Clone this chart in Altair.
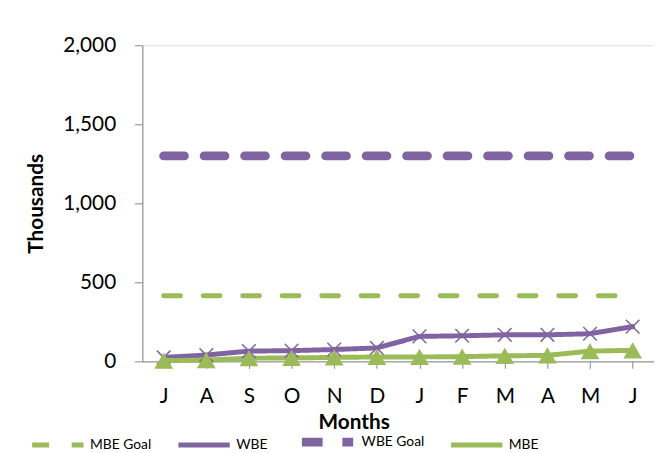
import altair as alt
import pandas as pd

months = ["Jul", "Aug", "Sep", "Oct", "Nov", "Dec", "Jan", "Feb", "Mar", "Apr", "May", "Jun"]
wbe = [25, 40, 65, 68, 75, 85, 158, 162, 168, 168, 175, 220]
mbe = [5, 8, 20, 22, 25, 28, 28, 30, 35, 38, 65, 70]
mbe_goal = [415] * 12
wbe_goal = [1300] * 12

series_order = ["MBE Goal", "WBE", "WBE Goal", "MBE"]
series_colors = ["#9BBB59", "#8064A2", "#8064A2", "#9BBB59"]
series_dash = [[17, 23], [1, 0], [21, 20], [1, 0]]
series_width = [5, 5, 9, 5]

rows = []
for name, vals in [("MBE Goal", mbe_goal), ("WBE", wbe), ("WBE Goal", wbe_goal), ("MBE", mbe)]:
    for m, v in zip(months, vals):
        rows.append({"Month": m, "Series": name, "Line": name, "Value": v})
df = pd.DataFrame(rows)

FONT = "Lato"
AX = "#868686"

x_enc = alt.X(
    "Month:N",
    sort=months,
    scale=alt.Scale(paddingInner=0, paddingOuter=0),
    axis=alt.Axis(
        title="Months",
        labelExpr="substring(datum.label, 0, 1)",
        labelAngle=0,
        labelFontSize=21,
        labelColor="#000",
        labelPadding=18,
        labelFont=FONT,
        titleFont=FONT,
        titleFontSize=21,
        titleFontWeight="bold",
        titleColor="#000",
        titlePadding=5,
        titleX=214,
        titleAnchor="start",
        titleAlign="center",
        domainColor=AX,
        tickColor=AX,
        tickSize=7,
        bandPosition=0,
        grid=False,
    ),
)
y_enc = alt.Y(
    "Value:Q",
    scale=alt.Scale(domain=[0, 2000], nice=False),
    axis=alt.Axis(
        title="Thousands",
        values=[0, 500, 1000, 1500, 2000],
        format=",d",
        labelFontSize=21,
        labelColor="#000",
        labelFont=FONT,
        labelPadding=19,
        tickSize=8,
        tickColor=AX,
        domainColor=AX,
        titleFont=FONT,
        titleFontSize=21,
        titleFontWeight="bold",
        titleColor="#000",
        titlePadding=17,
        grid=False,
    ),
)

lines = alt.Chart(df).mark_line(strokeCap="round").encode(
    x=x_enc,
    y=y_enc,
    color=alt.Color(
        "Series:N",
        scale=alt.Scale(domain=series_order, range=series_colors),
        sort=series_order,
        legend=alt.Legend(
            title=None,
            orient="none",
            legendX=-114,
            legendY=371,
            direction="horizontal",
            symbolType="stroke",
            symbolSize=2700,
            symbolStrokeWidth=6,
            labelFont=FONT,
            labelFontSize=14,
            labelColor="#000",
            labelOffset=4,
            columnPadding=16,
            labelLimit=200,
        ),
    ),
    strokeDash=alt.StrokeDash(
        "Series:N",
        scale=alt.Scale(domain=series_order, range=series_dash),
        sort=series_order,
        legend=alt.Legend(title=None),
    ),
    strokeWidth=alt.StrokeWidth(
        "Line:N",
        scale=alt.Scale(type="ordinal", domain=series_order, range=series_width),
        legend=None,
    ),
    detail="Series:N",
)

wbe_pts = alt.Chart(df).transform_filter(alt.datum.Series == "WBE").mark_point(
    shape="M-1,-1L1,1M-1,1L1,-1", color="#8064A2", strokeWidth=1.5, size=190, filled=False, opacity=1
).encode(x=alt.X("Month:N", sort=months), y="Value:Q")

mbe_pts = alt.Chart(df).transform_filter(alt.datum.Series == "MBE").mark_point(
    shape="triangle-up", color="#9BBB59", size=360, filled=True, opacity=1
).encode(x=alt.X("Month:N", sort=months), y="Value:Q")

chart = alt.layer(lines, wbe_pts, mbe_pts).properties(
    width=518,
    height=320,
    autosize=alt.AutoSizeParams(type="none"),
    padding={"left": 136, "top": 35, "right": 0, "bottom": 90},
).configure_view(stroke=None).configure(background="white")

chart.save("out.html", embed_options={"renderer": "svg", "actions": False})
